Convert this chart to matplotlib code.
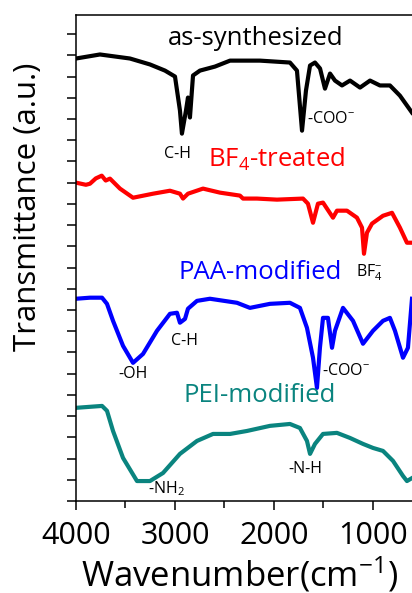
import matplotlib
matplotlib.use("Agg")
import matplotlib.pyplot as plt
from matplotlib.ticker import MultipleLocator

plt.rcParams['font.family'] = ['Open Sans', 'DejaVu Sans']
plt.rcParams['mathtext.fontset'] = 'custom'
plt.rcParams['mathtext.rm'] = 'Open Sans'
plt.rcParams['mathtext.it'] = 'Open Sans:italic'
plt.rcParams['mathtext.bf'] = 'Open Sans:bold'

# ---- data (wavenumber in cm^-1, transmittance in a.u. with vertical offsets) ----
wn_as = [4000, 3758, 3455, 3253, 3101, 3000, 2950, 2930, 2889, 2869, 2849, 2818,
         2748, 2596, 2444, 2142, 1839, 1768, 1717, 1677, 1636, 1586, 1535, 1485,
         1434, 1384, 1313, 1232, 1131, 1030, 930, 829, 728, 606]
t_as = [20.85, 21.04, 20.85, 20.57, 20.28, 20.00, 18.40, 17.31, 18.40, 19.01, 18.07, 20.05,
        20.28, 20.47, 20.75, 20.75, 20.66, 20.28, 17.45, 19.34, 20.52, 20.66, 20.38, 19.43,
        20.14, 19.81, 19.58, 19.81, 19.48, 19.81, 19.58, 19.58, 19.10, 18.30]

wn_bf4 = [4000, 3900, 3859, 3800, 3740, 3700, 3657, 3556, 3424, 3222, 3051, 2950, 2919,
          2869, 2717, 2546, 2344, 2313, 2172, 1970, 1707, 1657, 1606, 1556, 1505,
          1404, 1364, 1263, 1162, 1111, 1091, 1061, 1010, 899, 808, 728, 657, 606]
t_bf4 = [15.00, 14.90, 14.95, 15.20, 15.33, 15.10, 15.19, 14.72, 14.29, 14.48, 14.62, 14.48,
         14.25, 14.48, 14.72, 14.53, 14.39, 14.25, 14.25, 14.20, 14.25, 14.01, 13.11, 14.01,
         14.06, 13.35, 13.68, 13.68, 13.35, 12.88, 11.65, 12.64, 13.07, 13.44, 13.58, 12.88,
         12.17, 12.17]

wn_paa = [4000, 3859, 3737, 3687, 3626, 3525, 3424, 3323, 3182, 3051, 2980, 2950,
          2899, 2869, 2778, 2647, 2374, 2243, 2041, 1839, 1738, 1667, 1606, 1566,
          1536, 1505, 1455, 1414, 1384, 1303, 1202, 1101, 1000, 899, 829, 778,
          697, 647, 606]
t_paa = [9.53, 9.58, 9.58, 9.29, 8.49, 7.31, 6.51, 6.93, 8.02, 8.82, 8.87, 8.40,
         8.58, 9.06, 9.43, 9.53, 9.34, 9.10, 9.29, 9.34, 9.10, 8.16, 6.75, 5.33,
         7.22, 8.63, 8.63, 7.22, 8.02, 9.10, 8.49, 7.41, 8.02, 8.49, 8.63, 8.02,
         6.75, 7.22, 9.53]

wn_pei = [4000, 3737, 3687, 3626, 3525, 3384, 3253, 3121, 2950, 2778, 2616, 2444,
          2273, 2041, 1839, 1738, 1667, 1636, 1586, 1505, 1364, 1232, 1101, 1000,
          899, 798, 697, 657, 606]
t_pei = [4.39, 4.48, 4.25, 3.30, 2.03, 0.94, 0.94, 1.32, 2.22, 2.83, 3.16, 3.16,
         3.30, 3.54, 3.63, 3.44, 2.83, 2.22, 2.69, 3.16, 3.21, 2.97, 2.69, 2.50,
         2.36, 1.89, 1.18, 0.94, 1.08]

x_ticks = [4000, 3000, 2000, 1000]
x_ticklabels = ["4000", "3000", "2000", "1000"]

c_black = "#000000"
c_red = "#ff0000"
c_blue = "#0000ff"
c_teal = "#0a847f"

fig = plt.figure(figsize=(4.12, 5.93), dpi=100)
ax = fig.add_axes([76 / 412, 1 - 501 / 593, 336 / 412, 486 / 593])

lw = 3.0
ax.plot(wn_as, t_as, color=c_black, lw=lw, solid_joinstyle='round')
ax.plot(wn_bf4, t_bf4, color=c_red, lw=lw, solid_joinstyle='round')
ax.plot(wn_paa, t_paa, color=c_blue, lw=lw, solid_joinstyle='round')
ax.plot(wn_pei, t_pei, color=c_teal, lw=lw, solid_joinstyle='round')

ax.set_xlim(4000, 606)
ax.set_ylim(0, 22.9)

ax.set_xticks(x_ticks)
ax.set_xticklabels(x_ticklabels)
ax.xaxis.set_minor_locator(MultipleLocator(500))
ax.yaxis.set_major_locator(MultipleLocator(1))
ax.set_yticklabels([])

ax.tick_params(axis='x', which='major', direction='out', length=6.5, width=1.1,
               labelsize=22, pad=8)
ax.tick_params(axis='x', which='minor', direction='out', length=5, width=1.1)
ax.tick_params(axis='y', which='major', direction='out', length=6.5, width=1.1)
ax.tick_params(top=False, right=False)

for s in ['left', 'bottom', 'top']:
    ax.spines[s].set_linewidth(1.1)
ax.spines['right'].set_visible(False)

ax.set_xlabel("Wavenumber(cm$^{-1}$)", fontsize=25, va='baseline')
ax.xaxis.set_label_coords((240 - 76) / 336, (501 - 586) / 486)
ax.set_ylabel("Transmittance (a.u.)", fontsize=22.5, va='center')
ax.yaxis.set_label_coords((28 - 76) / 336, (501 - 207) / 486)

big = 18.5
small = 11.5
ax.text(2182, 21.8, "as-synthesized", color=c_black, fontsize=big, ha='center', va='center')
ax.text(2970, 16.37, "C-H", color=c_black, fontsize=small, ha='center', va='center')
ax.text(1667, 18.0, "-COO$^{-}$", color=c_black, fontsize=small, ha='left', va='center')
ax.text(2667, 16.1, "BF$_{4}$-treated", color=c_red, fontsize=big, ha='left', va='center')
ax.text(1172, 10.75, "BF$_{4}^{-}$", color=c_black, fontsize=small, ha='left', va='center')
ax.text(2137, 10.75, "PAA-modified", color=c_blue, fontsize=big, ha='center', va='center')
ax.text(3424, 5.99, "-OH", color=c_black, fontsize=small, ha='center', va='center')
ax.text(2899, 7.55, "C-H", color=c_black, fontsize=small, ha='center', va='center')
ax.text(1515, 6.13, "-COO$^{-}$", color=c_black, fontsize=small, ha='left', va='center')
ax.text(2142, 4.95, "PEI-modified", color=c_teal, fontsize=big, ha='center', va='center')
ax.text(3091, 0.57, "-NH$_{2}$", color=c_black, fontsize=small, ha='center', va='center')
ax.text(1687, 1.51, "-N-H", color=c_black, fontsize=small, ha='center', va='center')

fig.savefig("out.png", dpi=100)
